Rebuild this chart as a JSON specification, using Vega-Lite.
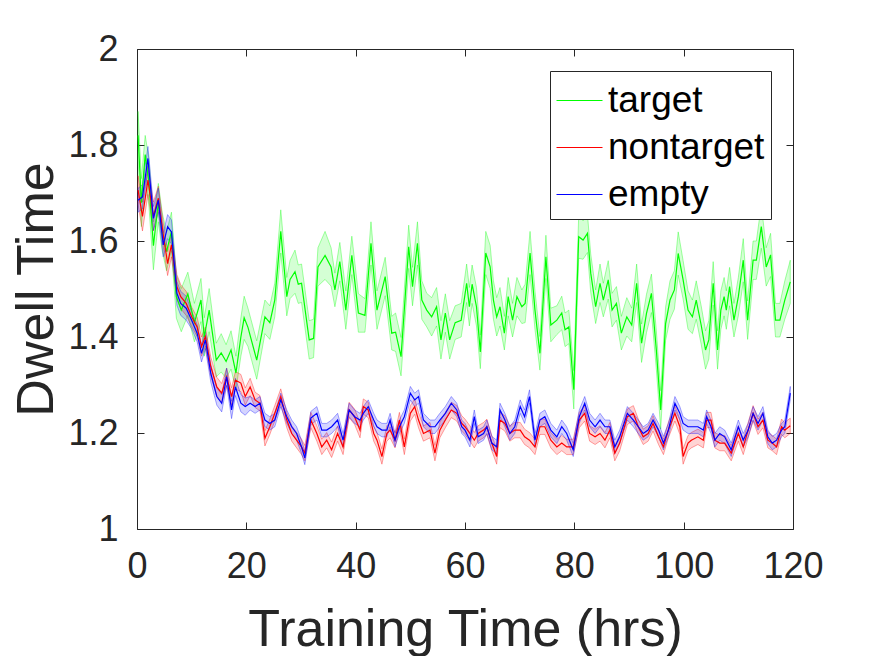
{
  "$schema": "https://vega.github.io/schema/vega-lite/v6.json",
  "width": 656,
  "height": 480,
  "autosize": "none",
  "padding": {"left": 137, "top": 49, "right": 82, "bottom": 127},
  "background": "white",
  "config": {
    "view": {"stroke": "#262626", "strokeWidth": 1},
    "font": "Liberation Sans"
  },
  "data": {
    "values": [
      {"s":"target","t":0.2,"m":1.82,"lo":1.77,"hi":1.87},
      {"s":"target","t":0.8,"m":1.68,"lo":1.63,"hi":1.73},
      {"s":"target","t":1.5,"m":1.78,"lo":1.74,"hi":1.82},
      {"s":"target","t":2.2,"m":1.72,"lo":1.67,"hi":1.77},
      {"s":"target","t":3.0,"m":1.59,"lo":1.54,"hi":1.64},
      {"s":"target","t":3.9,"m":1.68,"lo":1.64,"hi":1.72},
      {"s":"target","t":4.6,"m":1.62,"lo":1.58,"hi":1.66},
      {"s":"target","t":5.4,"m":1.578,"lo":1.538,"hi":1.618},
      {"s":"target","t":6.3,"m":1.62,"lo":1.58,"hi":1.66},
      {"s":"target","t":7.2,"m":1.484,"lo":1.439,"hi":1.529},
      {"s":"target","t":8.1,"m":1.456,"lo":1.411,"hi":1.501},
      {"s":"target","t":9.3,"m":1.49,"lo":1.445,"hi":1.535},
      {"s":"target","t":10.5,"m":1.43,"lo":1.39,"hi":1.47},
      {"s":"target","t":11.7,"m":1.477,"lo":1.432,"hi":1.522},
      {"s":"target","t":12.3,"m":1.40,"lo":1.36,"hi":1.44},
      {"s":"target","t":13.2,"m":1.456,"lo":1.411,"hi":1.501},
      {"s":"target","t":14.5,"m":1.352,"lo":1.317,"hi":1.387},
      {"s":"target","t":15.4,"m":1.367,"lo":1.327,"hi":1.407},
      {"s":"target","t":16.3,"m":1.349,"lo":1.314,"hi":1.384},
      {"s":"target","t":17.2,"m":1.373,"lo":1.333,"hi":1.413},
      {"s":"target","t":18.1,"m":1.325,"lo":1.29,"hi":1.36},
      {"s":"target","t":19.0,"m":1.40,"lo":1.36,"hi":1.44},
      {"s":"target","t":19.6,"m":1.44,"lo":1.395,"hi":1.485},
      {"s":"target","t":20.3,"m":1.42,"lo":1.38,"hi":1.46},
      {"s":"target","t":21.9,"m":1.352,"lo":1.312,"hi":1.392},
      {"s":"target","t":23.4,"m":1.442,"lo":1.407,"hi":1.477},
      {"s":"target","t":24.3,"m":1.43,"lo":1.395,"hi":1.465},
      {"s":"target","t":25.2,"m":1.477,"lo":1.442,"hi":1.512},
      {"s":"target","t":26.3,"m":1.62,"lo":1.575,"hi":1.665},
      {"s":"target","t":27.4,"m":1.484,"lo":1.444,"hi":1.524},
      {"s":"target","t":28.0,"m":1.52,"lo":1.48,"hi":1.56},
      {"s":"target","t":28.9,"m":1.536,"lo":1.491,"hi":1.581},
      {"s":"target","t":29.5,"m":1.51,"lo":1.47,"hi":1.55},
      {"s":"target","t":30.1,"m":1.512,"lo":1.472,"hi":1.552},
      {"s":"target","t":31.5,"m":1.394,"lo":1.354,"hi":1.434},
      {"s":"target","t":32.3,"m":1.397,"lo":1.357,"hi":1.437},
      {"s":"target","t":33.1,"m":1.546,"lo":1.506,"hi":1.586},
      {"s":"target","t":34.4,"m":1.57,"lo":1.52,"hi":1.62},
      {"s":"target","t":35.5,"m":1.546,"lo":1.506,"hi":1.586},
      {"s":"target","t":36.2,"m":1.498,"lo":1.463,"hi":1.533},
      {"s":"target","t":37.1,"m":1.557,"lo":1.517,"hi":1.597},
      {"s":"target","t":38.2,"m":1.456,"lo":1.416,"hi":1.496},
      {"s":"target","t":39.3,"m":1.57,"lo":1.53,"hi":1.61},
      {"s":"target","t":40.5,"m":1.45,"lo":1.41,"hi":1.49},
      {"s":"target","t":41.7,"m":1.445,"lo":1.41,"hi":1.48},
      {"s":"target","t":42.8,"m":1.595,"lo":1.55,"hi":1.64},
      {"s":"target","t":43.9,"m":1.456,"lo":1.416,"hi":1.496},
      {"s":"target","t":45.4,"m":1.526,"lo":1.486,"hi":1.566},
      {"s":"target","t":46.6,"m":1.408,"lo":1.373,"hi":1.443},
      {"s":"target","t":47.3,"m":1.41,"lo":1.37,"hi":1.45},
      {"s":"target","t":48.3,"m":1.359,"lo":1.319,"hi":1.399},
      {"s":"target","t":49.7,"m":1.588,"lo":1.543,"hi":1.633},
      {"s":"target","t":50.4,"m":1.505,"lo":1.465,"hi":1.545},
      {"s":"target","t":51.3,"m":1.595,"lo":1.55,"hi":1.64},
      {"s":"target","t":52.1,"m":1.477,"lo":1.437,"hi":1.517},
      {"s":"target","t":53.0,"m":1.456,"lo":1.421,"hi":1.491},
      {"s":"target","t":53.9,"m":1.442,"lo":1.402,"hi":1.482},
      {"s":"target","t":54.8,"m":1.463,"lo":1.423,"hi":1.503},
      {"s":"target","t":55.6,"m":1.394,"lo":1.354,"hi":1.434},
      {"s":"target","t":56.4,"m":1.45,"lo":1.41,"hi":1.49},
      {"s":"target","t":57.2,"m":1.394,"lo":1.354,"hi":1.434},
      {"s":"target","t":58.2,"m":1.43,"lo":1.395,"hi":1.465},
      {"s":"target","t":59.3,"m":1.435,"lo":1.40,"hi":1.47},
      {"s":"target","t":60.3,"m":1.512,"lo":1.472,"hi":1.552},
      {"s":"target","t":60.8,"m":1.463,"lo":1.423,"hi":1.503},
      {"s":"target","t":61.3,"m":1.51,"lo":1.47,"hi":1.55},
      {"s":"target","t":62.1,"m":1.463,"lo":1.423,"hi":1.503},
      {"s":"target","t":62.8,"m":1.369,"lo":1.334,"hi":1.404},
      {"s":"target","t":63.8,"m":1.575,"lo":1.53,"hi":1.62},
      {"s":"target","t":64.6,"m":1.546,"lo":1.501,"hi":1.591},
      {"s":"target","t":65.2,"m":1.477,"lo":1.437,"hi":1.517},
      {"s":"target","t":65.8,"m":1.442,"lo":1.402,"hi":1.482},
      {"s":"target","t":66.4,"m":1.463,"lo":1.423,"hi":1.503},
      {"s":"target","t":67.2,"m":1.408,"lo":1.373,"hi":1.443},
      {"s":"target","t":67.9,"m":1.484,"lo":1.444,"hi":1.524},
      {"s":"target","t":68.7,"m":1.435,"lo":1.40,"hi":1.47},
      {"s":"target","t":69.5,"m":1.484,"lo":1.444,"hi":1.524},
      {"s":"target","t":70.4,"m":1.463,"lo":1.428,"hi":1.498},
      {"s":"target","t":71.0,"m":1.47,"lo":1.43,"hi":1.51},
      {"s":"target","t":71.9,"m":1.575,"lo":1.53,"hi":1.62},
      {"s":"target","t":72.8,"m":1.456,"lo":1.416,"hi":1.496},
      {"s":"target","t":73.7,"m":1.366,"lo":1.331,"hi":1.401},
      {"s":"target","t":74.8,"m":1.567,"lo":1.522,"hi":1.612},
      {"s":"target","t":75.7,"m":1.425,"lo":1.39,"hi":1.46},
      {"s":"target","t":76.8,"m":1.435,"lo":1.405,"hi":1.465},
      {"s":"target","t":77.7,"m":1.45,"lo":1.415,"hi":1.485},
      {"s":"target","t":78.3,"m":1.415,"lo":1.38,"hi":1.45},
      {"s":"target","t":79.0,"m":1.421,"lo":1.386,"hi":1.456},
      {"s":"target","t":79.9,"m":1.29,"lo":1.25,"hi":1.33},
      {"s":"target","t":80.8,"m":1.609,"lo":1.564,"hi":1.654},
      {"s":"target","t":81.6,"m":1.602,"lo":1.562,"hi":1.642},
      {"s":"target","t":82.4,"m":1.616,"lo":1.576,"hi":1.656},
      {"s":"target","t":83.0,"m":1.533,"lo":1.493,"hi":1.573},
      {"s":"target","t":83.9,"m":1.463,"lo":1.428,"hi":1.498},
      {"s":"target","t":84.7,"m":1.512,"lo":1.472,"hi":1.552},
      {"s":"target","t":85.3,"m":1.477,"lo":1.442,"hi":1.512},
      {"s":"target","t":86.2,"m":1.519,"lo":1.479,"hi":1.559},
      {"s":"target","t":86.9,"m":1.456,"lo":1.421,"hi":1.491},
      {"s":"target","t":87.7,"m":1.47,"lo":1.435,"hi":1.505},
      {"s":"target","t":88.6,"m":1.408,"lo":1.373,"hi":1.443},
      {"s":"target","t":89.6,"m":1.442,"lo":1.402,"hi":1.482},
      {"s":"target","t":90.5,"m":1.425,"lo":1.39,"hi":1.46},
      {"s":"target","t":91.4,"m":1.512,"lo":1.472,"hi":1.552},
      {"s":"target","t":92.3,"m":1.387,"lo":1.347,"hi":1.427},
      {"s":"target","t":93.2,"m":1.449,"lo":1.409,"hi":1.489},
      {"s":"target","t":94.1,"m":1.491,"lo":1.451,"hi":1.531},
      {"s":"target","t":95.0,"m":1.373,"lo":1.333,"hi":1.413},
      {"s":"target","t":95.8,"m":1.248,"lo":1.208,"hi":1.288},
      {"s":"target","t":96.7,"m":1.428,"lo":1.393,"hi":1.463},
      {"s":"target","t":97.5,"m":1.477,"lo":1.437,"hi":1.517},
      {"s":"target","t":98.3,"m":1.498,"lo":1.458,"hi":1.538},
      {"s":"target","t":99.0,"m":1.574,"lo":1.529,"hi":1.619},
      {"s":"target","t":99.9,"m":1.519,"lo":1.479,"hi":1.559},
      {"s":"target","t":100.8,"m":1.456,"lo":1.416,"hi":1.496},
      {"s":"target","t":101.6,"m":1.442,"lo":1.407,"hi":1.477},
      {"s":"target","t":102.3,"m":1.477,"lo":1.437,"hi":1.517},
      {"s":"target","t":103.2,"m":1.425,"lo":1.385,"hi":1.465},
      {"s":"target","t":104.0,"m":1.373,"lo":1.333,"hi":1.413},
      {"s":"target","t":104.6,"m":1.394,"lo":1.354,"hi":1.434},
      {"s":"target","t":105.4,"m":1.512,"lo":1.467,"hi":1.557},
      {"s":"target","t":106.2,"m":1.373,"lo":1.333,"hi":1.413},
      {"s":"target","t":106.8,"m":1.456,"lo":1.416,"hi":1.496},
      {"s":"target","t":107.4,"m":1.484,"lo":1.444,"hi":1.524},
      {"s":"target","t":107.8,"m":1.456,"lo":1.416,"hi":1.496},
      {"s":"target","t":108.4,"m":1.505,"lo":1.465,"hi":1.545},
      {"s":"target","t":109.2,"m":1.435,"lo":1.40,"hi":1.47},
      {"s":"target","t":110.0,"m":1.484,"lo":1.444,"hi":1.524},
      {"s":"target","t":110.9,"m":1.56,"lo":1.515,"hi":1.605},
      {"s":"target","t":111.7,"m":1.435,"lo":1.395,"hi":1.475},
      {"s":"target","t":112.7,"m":1.56,"lo":1.52,"hi":1.60},
      {"s":"target","t":113.3,"m":1.56,"lo":1.52,"hi":1.60},
      {"s":"target","t":114.2,"m":1.63,"lo":1.585,"hi":1.675},
      {"s":"target","t":115.1,"m":1.546,"lo":1.506,"hi":1.586},
      {"s":"target","t":115.9,"m":1.571,"lo":1.526,"hi":1.616},
      {"s":"target","t":116.8,"m":1.435,"lo":1.40,"hi":1.47},
      {"s":"target","t":117.6,"m":1.435,"lo":1.40,"hi":1.47},
      {"s":"target","t":118.5,"m":1.477,"lo":1.437,"hi":1.517},
      {"s":"target","t":119.5,"m":1.515,"lo":1.47,"hi":1.56},

      {"s":"nontarget","t":0.2,"m":1.706,"lo":1.676,"hi":1.736},
      {"s":"nontarget","t":1.0,"m":1.651,"lo":1.621,"hi":1.681},
      {"s":"nontarget","t":2.0,"m":1.727,"lo":1.697,"hi":1.757},
      {"s":"nontarget","t":3.0,"m":1.651,"lo":1.621,"hi":1.681},
      {"s":"nontarget","t":3.9,"m":1.689,"lo":1.664,"hi":1.714},
      {"s":"nontarget","t":4.8,"m":1.613,"lo":1.588,"hi":1.638},
      {"s":"nontarget","t":5.6,"m":1.553,"lo":1.528,"hi":1.578},
      {"s":"nontarget","t":6.3,"m":1.592,"lo":1.567,"hi":1.617},
      {"s":"nontarget","t":7.3,"m":1.505,"lo":1.48,"hi":1.53},
      {"s":"nontarget","t":8.0,"m":1.484,"lo":1.459,"hi":1.509},
      {"s":"nontarget","t":9.0,"m":1.470,"lo":1.445,"hi":1.495},
      {"s":"nontarget","t":10.0,"m":1.442,"lo":1.422,"hi":1.462},
      {"s":"nontarget","t":11.0,"m":1.421,"lo":1.401,"hi":1.441},
      {"s":"nontarget","t":11.8,"m":1.380,"lo":1.36,"hi":1.40},
      {"s":"nontarget","t":12.5,"m":1.401,"lo":1.381,"hi":1.421},
      {"s":"nontarget","t":13.5,"m":1.338,"lo":1.318,"hi":1.358},
      {"s":"nontarget","t":14.6,"m":1.296,"lo":1.276,"hi":1.316},
      {"s":"nontarget","t":15.5,"m":1.283,"lo":1.263,"hi":1.303},
      {"s":"nontarget","t":16.4,"m":1.317,"lo":1.299,"hi":1.335},
      {"s":"nontarget","t":17.3,"m":1.276,"lo":1.258,"hi":1.294},
      {"s":"nontarget","t":18.0,"m":1.310,"lo":1.292,"hi":1.328},
      {"s":"nontarget","t":19.0,"m":1.304,"lo":1.286,"hi":1.322},
      {"s":"nontarget","t":19.8,"m":1.276,"lo":1.258,"hi":1.294},
      {"s":"nontarget","t":20.7,"m":1.296,"lo":1.278,"hi":1.314},
      {"s":"nontarget","t":21.6,"m":1.269,"lo":1.253,"hi":1.285},
      {"s":"nontarget","t":22.5,"m":1.262,"lo":1.246,"hi":1.278},
      {"s":"nontarget","t":23.4,"m":1.189,"lo":1.173,"hi":1.205},
      {"s":"nontarget","t":24.3,"m":1.213,"lo":1.197,"hi":1.229},
      {"s":"nontarget","t":25.2,"m":1.241,"lo":1.225,"hi":1.257},
      {"s":"nontarget","t":26.3,"m":1.276,"lo":1.26,"hi":1.292},
      {"s":"nontarget","t":27.4,"m":1.227,"lo":1.211,"hi":1.243},
      {"s":"nontarget","t":28.3,"m":1.199,"lo":1.183,"hi":1.215},
      {"s":"nontarget","t":29.2,"m":1.185,"lo":1.169,"hi":1.201},
      {"s":"nontarget","t":30.1,"m":1.171,"lo":1.155,"hi":1.187},
      {"s":"nontarget","t":30.7,"m":1.158,"lo":1.142,"hi":1.174},
      {"s":"nontarget","t":31.8,"m":1.227,"lo":1.211,"hi":1.243},
      {"s":"nontarget","t":32.9,"m":1.199,"lo":1.183,"hi":1.215},
      {"s":"nontarget","t":33.8,"m":1.171,"lo":1.155,"hi":1.187},
      {"s":"nontarget","t":34.7,"m":1.185,"lo":1.169,"hi":1.201},
      {"s":"nontarget","t":35.6,"m":1.165,"lo":1.149,"hi":1.181},
      {"s":"nontarget","t":36.7,"m":1.199,"lo":1.183,"hi":1.215},
      {"s":"nontarget","t":37.7,"m":1.171,"lo":1.155,"hi":1.187},
      {"s":"nontarget","t":38.8,"m":1.248,"lo":1.232,"hi":1.264},
      {"s":"nontarget","t":39.8,"m":1.234,"lo":1.218,"hi":1.25},
      {"s":"nontarget","t":40.8,"m":1.206,"lo":1.19,"hi":1.222},
      {"s":"nontarget","t":41.4,"m":1.255,"lo":1.239,"hi":1.271},
      {"s":"nontarget","t":42.3,"m":1.248,"lo":1.232,"hi":1.264},
      {"s":"nontarget","t":43.3,"m":1.199,"lo":1.183,"hi":1.215},
      {"s":"nontarget","t":43.9,"m":1.185,"lo":1.169,"hi":1.201},
      {"s":"nontarget","t":44.8,"m":1.151,"lo":1.135,"hi":1.167},
      {"s":"nontarget","t":45.7,"m":1.199,"lo":1.183,"hi":1.215},
      {"s":"nontarget","t":46.3,"m":1.206,"lo":1.19,"hi":1.222},
      {"s":"nontarget","t":47.2,"m":1.185,"lo":1.169,"hi":1.201},
      {"s":"nontarget","t":48.0,"m":1.227,"lo":1.211,"hi":1.243},
      {"s":"nontarget","t":48.9,"m":1.171,"lo":1.155,"hi":1.187},
      {"s":"nontarget","t":50.0,"m":1.241,"lo":1.225,"hi":1.257},
      {"s":"nontarget","t":50.8,"m":1.255,"lo":1.239,"hi":1.271},
      {"s":"nontarget","t":51.5,"m":1.227,"lo":1.211,"hi":1.243},
      {"s":"nontarget","t":52.4,"m":1.199,"lo":1.183,"hi":1.215},
      {"s":"nontarget","t":53.6,"m":1.206,"lo":1.19,"hi":1.222},
      {"s":"nontarget","t":54.5,"m":1.158,"lo":1.142,"hi":1.174},
      {"s":"nontarget","t":55.4,"m":1.206,"lo":1.19,"hi":1.222},
      {"s":"nontarget","t":56.4,"m":1.227,"lo":1.211,"hi":1.243},
      {"s":"nontarget","t":57.5,"m":1.248,"lo":1.232,"hi":1.264},
      {"s":"nontarget","t":58.5,"m":1.241,"lo":1.225,"hi":1.257},
      {"s":"nontarget","t":59.4,"m":1.220,"lo":1.204,"hi":1.236},
      {"s":"nontarget","t":60.0,"m":1.213,"lo":1.197,"hi":1.229},
      {"s":"nontarget","t":60.9,"m":1.199,"lo":1.183,"hi":1.215},
      {"s":"nontarget","t":61.7,"m":1.185,"lo":1.169,"hi":1.201},
      {"s":"nontarget","t":62.4,"m":1.199,"lo":1.183,"hi":1.215},
      {"s":"nontarget","t":63.4,"m":1.206,"lo":1.19,"hi":1.222},
      {"s":"nontarget","t":64.0,"m":1.213,"lo":1.197,"hi":1.229},
      {"s":"nontarget","t":64.9,"m":1.179,"lo":1.163,"hi":1.195},
      {"s":"nontarget","t":65.8,"m":1.151,"lo":1.135,"hi":1.167},
      {"s":"nontarget","t":66.4,"m":1.227,"lo":1.211,"hi":1.243},
      {"s":"nontarget","t":67.3,"m":1.220,"lo":1.204,"hi":1.236},
      {"s":"nontarget","t":68.2,"m":1.199,"lo":1.183,"hi":1.215},
      {"s":"nontarget","t":69.1,"m":1.206,"lo":1.19,"hi":1.222},
      {"s":"nontarget","t":70.1,"m":1.206,"lo":1.19,"hi":1.222},
      {"s":"nontarget","t":70.9,"m":1.192,"lo":1.176,"hi":1.208},
      {"s":"nontarget","t":71.8,"m":1.185,"lo":1.169,"hi":1.201},
      {"s":"nontarget","t":72.8,"m":1.171,"lo":1.155,"hi":1.187},
      {"s":"nontarget","t":73.7,"m":1.213,"lo":1.197,"hi":1.229},
      {"s":"nontarget","t":74.6,"m":1.213,"lo":1.197,"hi":1.229},
      {"s":"nontarget","t":75.7,"m":1.185,"lo":1.169,"hi":1.201},
      {"s":"nontarget","t":76.8,"m":1.171,"lo":1.155,"hi":1.187},
      {"s":"nontarget","t":77.7,"m":1.179,"lo":1.163,"hi":1.195},
      {"s":"nontarget","t":78.6,"m":1.171,"lo":1.155,"hi":1.187},
      {"s":"nontarget","t":79.8,"m":1.171,"lo":1.155,"hi":1.187},
      {"s":"nontarget","t":80.9,"m":1.227,"lo":1.211,"hi":1.243},
      {"s":"nontarget","t":81.9,"m":1.241,"lo":1.225,"hi":1.257},
      {"s":"nontarget","t":82.8,"m":1.199,"lo":1.183,"hi":1.215},
      {"s":"nontarget","t":83.8,"m":1.192,"lo":1.176,"hi":1.208},
      {"s":"nontarget","t":84.7,"m":1.199,"lo":1.183,"hi":1.215},
      {"s":"nontarget","t":85.6,"m":1.185,"lo":1.169,"hi":1.201},
      {"s":"nontarget","t":86.5,"m":1.206,"lo":1.19,"hi":1.222},
      {"s":"nontarget","t":87.4,"m":1.158,"lo":1.142,"hi":1.174},
      {"s":"nontarget","t":88.3,"m":1.179,"lo":1.163,"hi":1.195},
      {"s":"nontarget","t":89.7,"m":1.234,"lo":1.218,"hi":1.25},
      {"s":"nontarget","t":90.8,"m":1.241,"lo":1.225,"hi":1.257},
      {"s":"nontarget","t":91.7,"m":1.213,"lo":1.197,"hi":1.229},
      {"s":"nontarget","t":92.6,"m":1.192,"lo":1.176,"hi":1.208},
      {"s":"nontarget","t":93.5,"m":1.199,"lo":1.183,"hi":1.215},
      {"s":"nontarget","t":94.4,"m":1.220,"lo":1.204,"hi":1.236},
      {"s":"nontarget","t":95.4,"m":1.192,"lo":1.176,"hi":1.208},
      {"s":"nontarget","t":96.3,"m":1.171,"lo":1.155,"hi":1.187},
      {"s":"nontarget","t":97.2,"m":1.206,"lo":1.19,"hi":1.222},
      {"s":"nontarget","t":98.4,"m":1.241,"lo":1.225,"hi":1.257},
      {"s":"nontarget","t":99.3,"m":1.213,"lo":1.197,"hi":1.229},
      {"s":"nontarget","t":99.9,"m":1.151,"lo":1.135,"hi":1.167},
      {"s":"nontarget","t":100.8,"m":1.179,"lo":1.163,"hi":1.195},
      {"s":"nontarget","t":101.4,"m":1.185,"lo":1.169,"hi":1.201},
      {"s":"nontarget","t":102.6,"m":1.192,"lo":1.176,"hi":1.208},
      {"s":"nontarget","t":103.6,"m":1.185,"lo":1.169,"hi":1.201},
      {"s":"nontarget","t":104.2,"m":1.227,"lo":1.211,"hi":1.243},
      {"s":"nontarget","t":105.0,"m":1.227,"lo":1.211,"hi":1.243},
      {"s":"nontarget","t":105.7,"m":1.185,"lo":1.169,"hi":1.201},
      {"s":"nontarget","t":106.6,"m":1.179,"lo":1.163,"hi":1.195},
      {"s":"nontarget","t":107.5,"m":1.179,"lo":1.163,"hi":1.195},
      {"s":"nontarget","t":108.7,"m":1.158,"lo":1.142,"hi":1.174},
      {"s":"nontarget","t":110.0,"m":1.199,"lo":1.183,"hi":1.215},
      {"s":"nontarget","t":110.9,"m":1.171,"lo":1.155,"hi":1.187},
      {"s":"nontarget","t":111.8,"m":1.206,"lo":1.19,"hi":1.222},
      {"s":"nontarget","t":112.7,"m":1.241,"lo":1.225,"hi":1.257},
      {"s":"nontarget","t":113.6,"m":1.213,"lo":1.197,"hi":1.229},
      {"s":"nontarget","t":114.5,"m":1.227,"lo":1.211,"hi":1.243},
      {"s":"nontarget","t":115.4,"m":1.185,"lo":1.169,"hi":1.201},
      {"s":"nontarget","t":116.2,"m":1.179,"lo":1.163,"hi":1.195},
      {"s":"nontarget","t":117.0,"m":1.171,"lo":1.155,"hi":1.187},
      {"s":"nontarget","t":117.9,"m":1.213,"lo":1.197,"hi":1.229},
      {"s":"nontarget","t":118.5,"m":1.206,"lo":1.19,"hi":1.222},
      {"s":"nontarget","t":119.5,"m":1.215,"lo":1.199,"hi":1.231},

      {"s":"empty","t":0.2,"m":1.685,"lo":1.66,"hi":1.71},
      {"s":"empty","t":1.0,"m":1.692,"lo":1.667,"hi":1.717},
      {"s":"empty","t":2.0,"m":1.772,"lo":1.747,"hi":1.797},
      {"s":"empty","t":3.0,"m":1.647,"lo":1.622,"hi":1.672},
      {"s":"empty","t":3.9,"m":1.685,"lo":1.66,"hi":1.71},
      {"s":"empty","t":4.8,"m":1.592,"lo":1.567,"hi":1.617},
      {"s":"empty","t":5.6,"m":1.630,"lo":1.605,"hi":1.655},
      {"s":"empty","t":6.3,"m":1.619,"lo":1.594,"hi":1.644},
      {"s":"empty","t":7.3,"m":1.491,"lo":1.466,"hi":1.516},
      {"s":"empty","t":8.0,"m":1.470,"lo":1.445,"hi":1.495},
      {"s":"empty","t":9.0,"m":1.460,"lo":1.435,"hi":1.485},
      {"s":"empty","t":10.0,"m":1.435,"lo":1.417,"hi":1.453},
      {"s":"empty","t":11.0,"m":1.408,"lo":1.39,"hi":1.426},
      {"s":"empty","t":11.8,"m":1.366,"lo":1.348,"hi":1.384},
      {"s":"empty","t":12.5,"m":1.394,"lo":1.376,"hi":1.412},
      {"s":"empty","t":13.5,"m":1.324,"lo":1.306,"hi":1.342},
      {"s":"empty","t":14.6,"m":1.276,"lo":1.258,"hi":1.294},
      {"s":"empty","t":15.5,"m":1.262,"lo":1.244,"hi":1.28},
      {"s":"empty","t":16.4,"m":1.317,"lo":1.299,"hi":1.335},
      {"s":"empty","t":17.3,"m":1.248,"lo":1.23,"hi":1.266},
      {"s":"empty","t":18.0,"m":1.296,"lo":1.278,"hi":1.314},
      {"s":"empty","t":19.0,"m":1.262,"lo":1.244,"hi":1.28},
      {"s":"empty","t":19.8,"m":1.255,"lo":1.237,"hi":1.273},
      {"s":"empty","t":20.7,"m":1.262,"lo":1.248,"hi":1.276},
      {"s":"empty","t":21.6,"m":1.255,"lo":1.241,"hi":1.269},
      {"s":"empty","t":22.5,"m":1.262,"lo":1.248,"hi":1.276},
      {"s":"empty","t":23.4,"m":1.227,"lo":1.213,"hi":1.241},
      {"s":"empty","t":24.3,"m":1.220,"lo":1.206,"hi":1.234},
      {"s":"empty","t":25.2,"m":1.227,"lo":1.213,"hi":1.241},
      {"s":"empty","t":26.3,"m":1.269,"lo":1.255,"hi":1.283},
      {"s":"empty","t":27.4,"m":1.234,"lo":1.22,"hi":1.248},
      {"s":"empty","t":28.3,"m":1.213,"lo":1.199,"hi":1.227},
      {"s":"empty","t":29.2,"m":1.199,"lo":1.185,"hi":1.213},
      {"s":"empty","t":30.1,"m":1.171,"lo":1.157,"hi":1.185},
      {"s":"empty","t":30.7,"m":1.148,"lo":1.134,"hi":1.162},
      {"s":"empty","t":31.8,"m":1.231,"lo":1.217,"hi":1.245},
      {"s":"empty","t":32.9,"m":1.241,"lo":1.227,"hi":1.255},
      {"s":"empty","t":33.8,"m":1.206,"lo":1.192,"hi":1.22},
      {"s":"empty","t":34.7,"m":1.206,"lo":1.192,"hi":1.22},
      {"s":"empty","t":35.6,"m":1.213,"lo":1.199,"hi":1.227},
      {"s":"empty","t":36.7,"m":1.227,"lo":1.213,"hi":1.241},
      {"s":"empty","t":37.7,"m":1.185,"lo":1.171,"hi":1.199},
      {"s":"empty","t":38.8,"m":1.248,"lo":1.234,"hi":1.262},
      {"s":"empty","t":39.8,"m":1.234,"lo":1.22,"hi":1.248},
      {"s":"empty","t":40.8,"m":1.227,"lo":1.213,"hi":1.241},
      {"s":"empty","t":41.4,"m":1.241,"lo":1.227,"hi":1.255},
      {"s":"empty","t":42.3,"m":1.255,"lo":1.241,"hi":1.269},
      {"s":"empty","t":43.3,"m":1.227,"lo":1.213,"hi":1.241},
      {"s":"empty","t":43.9,"m":1.213,"lo":1.199,"hi":1.227},
      {"s":"empty","t":44.8,"m":1.206,"lo":1.192,"hi":1.22},
      {"s":"empty","t":45.7,"m":1.206,"lo":1.192,"hi":1.22},
      {"s":"empty","t":46.3,"m":1.227,"lo":1.213,"hi":1.241},
      {"s":"empty","t":47.2,"m":1.185,"lo":1.171,"hi":1.199},
      {"s":"empty","t":48.0,"m":1.213,"lo":1.199,"hi":1.227},
      {"s":"empty","t":48.9,"m":1.234,"lo":1.22,"hi":1.248},
      {"s":"empty","t":50.0,"m":1.283,"lo":1.269,"hi":1.297},
      {"s":"empty","t":50.8,"m":1.269,"lo":1.255,"hi":1.283},
      {"s":"empty","t":51.5,"m":1.276,"lo":1.262,"hi":1.29},
      {"s":"empty","t":52.4,"m":1.227,"lo":1.213,"hi":1.241},
      {"s":"empty","t":53.6,"m":1.213,"lo":1.199,"hi":1.227},
      {"s":"empty","t":54.5,"m":1.213,"lo":1.199,"hi":1.227},
      {"s":"empty","t":55.4,"m":1.227,"lo":1.213,"hi":1.241},
      {"s":"empty","t":56.4,"m":1.241,"lo":1.227,"hi":1.255},
      {"s":"empty","t":57.5,"m":1.262,"lo":1.248,"hi":1.276},
      {"s":"empty","t":58.5,"m":1.248,"lo":1.234,"hi":1.262},
      {"s":"empty","t":59.4,"m":1.213,"lo":1.199,"hi":1.227},
      {"s":"empty","t":60.0,"m":1.206,"lo":1.192,"hi":1.22},
      {"s":"empty","t":60.9,"m":1.185,"lo":1.171,"hi":1.199},
      {"s":"empty","t":61.7,"m":1.234,"lo":1.22,"hi":1.248},
      {"s":"empty","t":62.4,"m":1.192,"lo":1.178,"hi":1.206},
      {"s":"empty","t":63.4,"m":1.199,"lo":1.185,"hi":1.213},
      {"s":"empty","t":64.0,"m":1.213,"lo":1.199,"hi":1.227},
      {"s":"empty","t":64.9,"m":1.179,"lo":1.165,"hi":1.193},
      {"s":"empty","t":65.8,"m":1.171,"lo":1.157,"hi":1.185},
      {"s":"empty","t":66.4,"m":1.248,"lo":1.234,"hi":1.262},
      {"s":"empty","t":67.3,"m":1.227,"lo":1.213,"hi":1.241},
      {"s":"empty","t":68.2,"m":1.199,"lo":1.185,"hi":1.213},
      {"s":"empty","t":69.1,"m":1.213,"lo":1.199,"hi":1.227},
      {"s":"empty","t":70.1,"m":1.255,"lo":1.241,"hi":1.269},
      {"s":"empty","t":70.9,"m":1.234,"lo":1.22,"hi":1.248},
      {"s":"empty","t":71.8,"m":1.276,"lo":1.262,"hi":1.29},
      {"s":"empty","t":72.8,"m":1.185,"lo":1.171,"hi":1.199},
      {"s":"empty","t":73.7,"m":1.227,"lo":1.213,"hi":1.241},
      {"s":"empty","t":74.6,"m":1.234,"lo":1.22,"hi":1.248},
      {"s":"empty","t":75.7,"m":1.206,"lo":1.192,"hi":1.22},
      {"s":"empty","t":76.8,"m":1.192,"lo":1.178,"hi":1.206},
      {"s":"empty","t":77.7,"m":1.213,"lo":1.199,"hi":1.227},
      {"s":"empty","t":78.6,"m":1.199,"lo":1.185,"hi":1.213},
      {"s":"empty","t":79.8,"m":1.165,"lo":1.151,"hi":1.179},
      {"s":"empty","t":80.9,"m":1.234,"lo":1.22,"hi":1.248},
      {"s":"empty","t":81.9,"m":1.262,"lo":1.248,"hi":1.276},
      {"s":"empty","t":82.8,"m":1.227,"lo":1.213,"hi":1.241},
      {"s":"empty","t":83.8,"m":1.213,"lo":1.199,"hi":1.227},
      {"s":"empty","t":84.7,"m":1.227,"lo":1.213,"hi":1.241},
      {"s":"empty","t":85.6,"m":1.213,"lo":1.199,"hi":1.227},
      {"s":"empty","t":86.5,"m":1.213,"lo":1.199,"hi":1.227},
      {"s":"empty","t":87.4,"m":1.171,"lo":1.157,"hi":1.185},
      {"s":"empty","t":88.3,"m":1.192,"lo":1.178,"hi":1.206},
      {"s":"empty","t":89.7,"m":1.241,"lo":1.227,"hi":1.255},
      {"s":"empty","t":90.8,"m":1.227,"lo":1.213,"hi":1.241},
      {"s":"empty","t":91.7,"m":1.213,"lo":1.199,"hi":1.227},
      {"s":"empty","t":92.6,"m":1.199,"lo":1.185,"hi":1.213},
      {"s":"empty","t":93.5,"m":1.206,"lo":1.192,"hi":1.22},
      {"s":"empty","t":94.4,"m":1.227,"lo":1.213,"hi":1.241},
      {"s":"empty","t":95.4,"m":1.206,"lo":1.192,"hi":1.22},
      {"s":"empty","t":96.3,"m":1.179,"lo":1.165,"hi":1.193},
      {"s":"empty","t":97.2,"m":1.206,"lo":1.192,"hi":1.22},
      {"s":"empty","t":98.4,"m":1.262,"lo":1.248,"hi":1.276},
      {"s":"empty","t":99.3,"m":1.241,"lo":1.227,"hi":1.255},
      {"s":"empty","t":99.9,"m":1.220,"lo":1.206,"hi":1.234},
      {"s":"empty","t":100.8,"m":1.213,"lo":1.199,"hi":1.227},
      {"s":"empty","t":101.4,"m":1.213,"lo":1.199,"hi":1.227},
      {"s":"empty","t":102.6,"m":1.213,"lo":1.199,"hi":1.227},
      {"s":"empty","t":103.6,"m":1.206,"lo":1.192,"hi":1.22},
      {"s":"empty","t":104.2,"m":1.234,"lo":1.22,"hi":1.248},
      {"s":"empty","t":105.0,"m":1.213,"lo":1.199,"hi":1.227},
      {"s":"empty","t":105.7,"m":1.185,"lo":1.171,"hi":1.199},
      {"s":"empty","t":106.6,"m":1.199,"lo":1.185,"hi":1.213},
      {"s":"empty","t":107.5,"m":1.192,"lo":1.178,"hi":1.206},
      {"s":"empty","t":108.7,"m":1.165,"lo":1.151,"hi":1.179},
      {"s":"empty","t":110.0,"m":1.213,"lo":1.199,"hi":1.227},
      {"s":"empty","t":110.9,"m":1.185,"lo":1.171,"hi":1.199},
      {"s":"empty","t":111.8,"m":1.206,"lo":1.192,"hi":1.22},
      {"s":"empty","t":112.7,"m":1.241,"lo":1.227,"hi":1.255},
      {"s":"empty","t":113.6,"m":1.220,"lo":1.206,"hi":1.234},
      {"s":"empty","t":114.5,"m":1.241,"lo":1.227,"hi":1.255},
      {"s":"empty","t":115.4,"m":1.192,"lo":1.178,"hi":1.206},
      {"s":"empty","t":116.2,"m":1.179,"lo":1.165,"hi":1.193},
      {"s":"empty","t":117.0,"m":1.185,"lo":1.171,"hi":1.199},
      {"s":"empty","t":117.9,"m":1.206,"lo":1.192,"hi":1.22},
      {"s":"empty","t":118.5,"m":1.213,"lo":1.199,"hi":1.227},
      {"s":"empty","t":119.5,"m":1.283,"lo":1.269,"hi":1.297}
    ]
  },
  "resolve": {"axis": {"x": "independent", "y": "independent"}},
  "layer": [
    {
      "transform": [{"filter": "datum.s === 'target'"}],
      "mark": {"type": "area", "color": "#00ff00", "fillOpacity": 0.17, "stroke": "#00ff00", "strokeOpacity": 0.35, "strokeWidth": 1},
      "encoding": {
        "x": {
          "field": "t", "type": "quantitative",
          "scale": {"domain": [0, 120], "nice": false},
          "axis": {
            "orient": "bottom", "values": [0, 20, 40, 60, 80, 100, 120],
            "grid": false, "domain": false,
            "tickSize": -7, "tickColor": "#262626",
            "labelFontSize": 36, "labelColor": "#262626", "labelPadding": 27,
            "labelFlush": false,
            "title": "Training Time (hrs)", "titleFontSize": 52, "titleFontWeight": "normal",
            "titleColor": "#262626", "titleBaseline": "alphabetic", "titleY": 116
          }
        },
        "y": {
          "field": "lo", "type": "quantitative",
          "scale": {"domain": [1, 2], "nice": false, "zero": false},
          "axis": {
            "orient": "left", "values": [1, 1.2, 1.4, 1.6, 1.8, 2], "format": ".1~f",
            "grid": false, "domain": false,
            "tickSize": -7, "tickColor": "#262626",
            "labelFontSize": 36, "labelColor": "#262626", "labelPadding": 26,
            "labelFlush": false,
            "title": "Dwell Time", "titleFontSize": 52, "titleFontWeight": "normal",
            "titleColor": "#262626", "titleBaseline": "alphabetic", "titleX": -85, "titleAngle": -90
          }
        },
        "y2": {"field": "hi"}
      }
    },
    {
      "transform": [{"filter": "datum.s === 'nontarget'"}],
      "mark": {"type": "area", "color": "#ff0000", "fillOpacity": 0.17, "stroke": "#ff0000", "strokeOpacity": 0.35, "strokeWidth": 1},
      "encoding": {
        "x": {"field": "t", "type": "quantitative", "axis": null},
        "y": {"field": "lo", "type": "quantitative", "axis": null},
        "y2": {"field": "hi"}
      }
    },
    {
      "transform": [{"filter": "datum.s === 'empty'"}],
      "mark": {"type": "area", "color": "#0000ff", "fillOpacity": 0.17, "stroke": "#0000ff", "strokeOpacity": 0.35, "strokeWidth": 1},
      "encoding": {
        "x": {"field": "t", "type": "quantitative", "axis": null},
        "y": {"field": "lo", "type": "quantitative", "axis": null},
        "y2": {"field": "hi"}
      }
    },
    {
      "mark": {"type": "line", "strokeWidth": 1.2},
      "encoding": {
        "x": {
          "field": "t", "type": "quantitative",
          "axis": {
            "orient": "top", "values": [0, 20, 40, 60, 80, 100, 120],
            "grid": false, "domain": false, "labels": false, "title": null,
            "tickSize": -7, "tickColor": "#262626"
          }
        },
        "y": {
          "field": "m", "type": "quantitative",
          "axis": {
            "orient": "right", "values": [1, 1.2, 1.4, 1.6, 1.8, 2],
            "grid": false, "domain": false, "labels": false, "title": null,
            "tickSize": -7, "tickColor": "#262626"
          }
        },
        "color": {
          "field": "s", "type": "nominal",
          "scale": {"domain": ["target", "nontarget", "empty"], "range": ["#00ff00", "#ff0000", "#0000ff"]},
          "legend": {
            "orient": "none", "legendX": 413, "legendY": 22,
            "title": null, "symbolType": "stroke", "symbolSize": 2116, "symbolStrokeWidth": 1,
            "labelFontSize": 37, "labelColor": "#000000", "labelOffset": 5,
            "rowPadding": 5, "padding": 6,
            "strokeColor": "#262626", "fillColor": "#ffffff", "labelLimit": 400
          }
        }
      }
    }
  ]
}
